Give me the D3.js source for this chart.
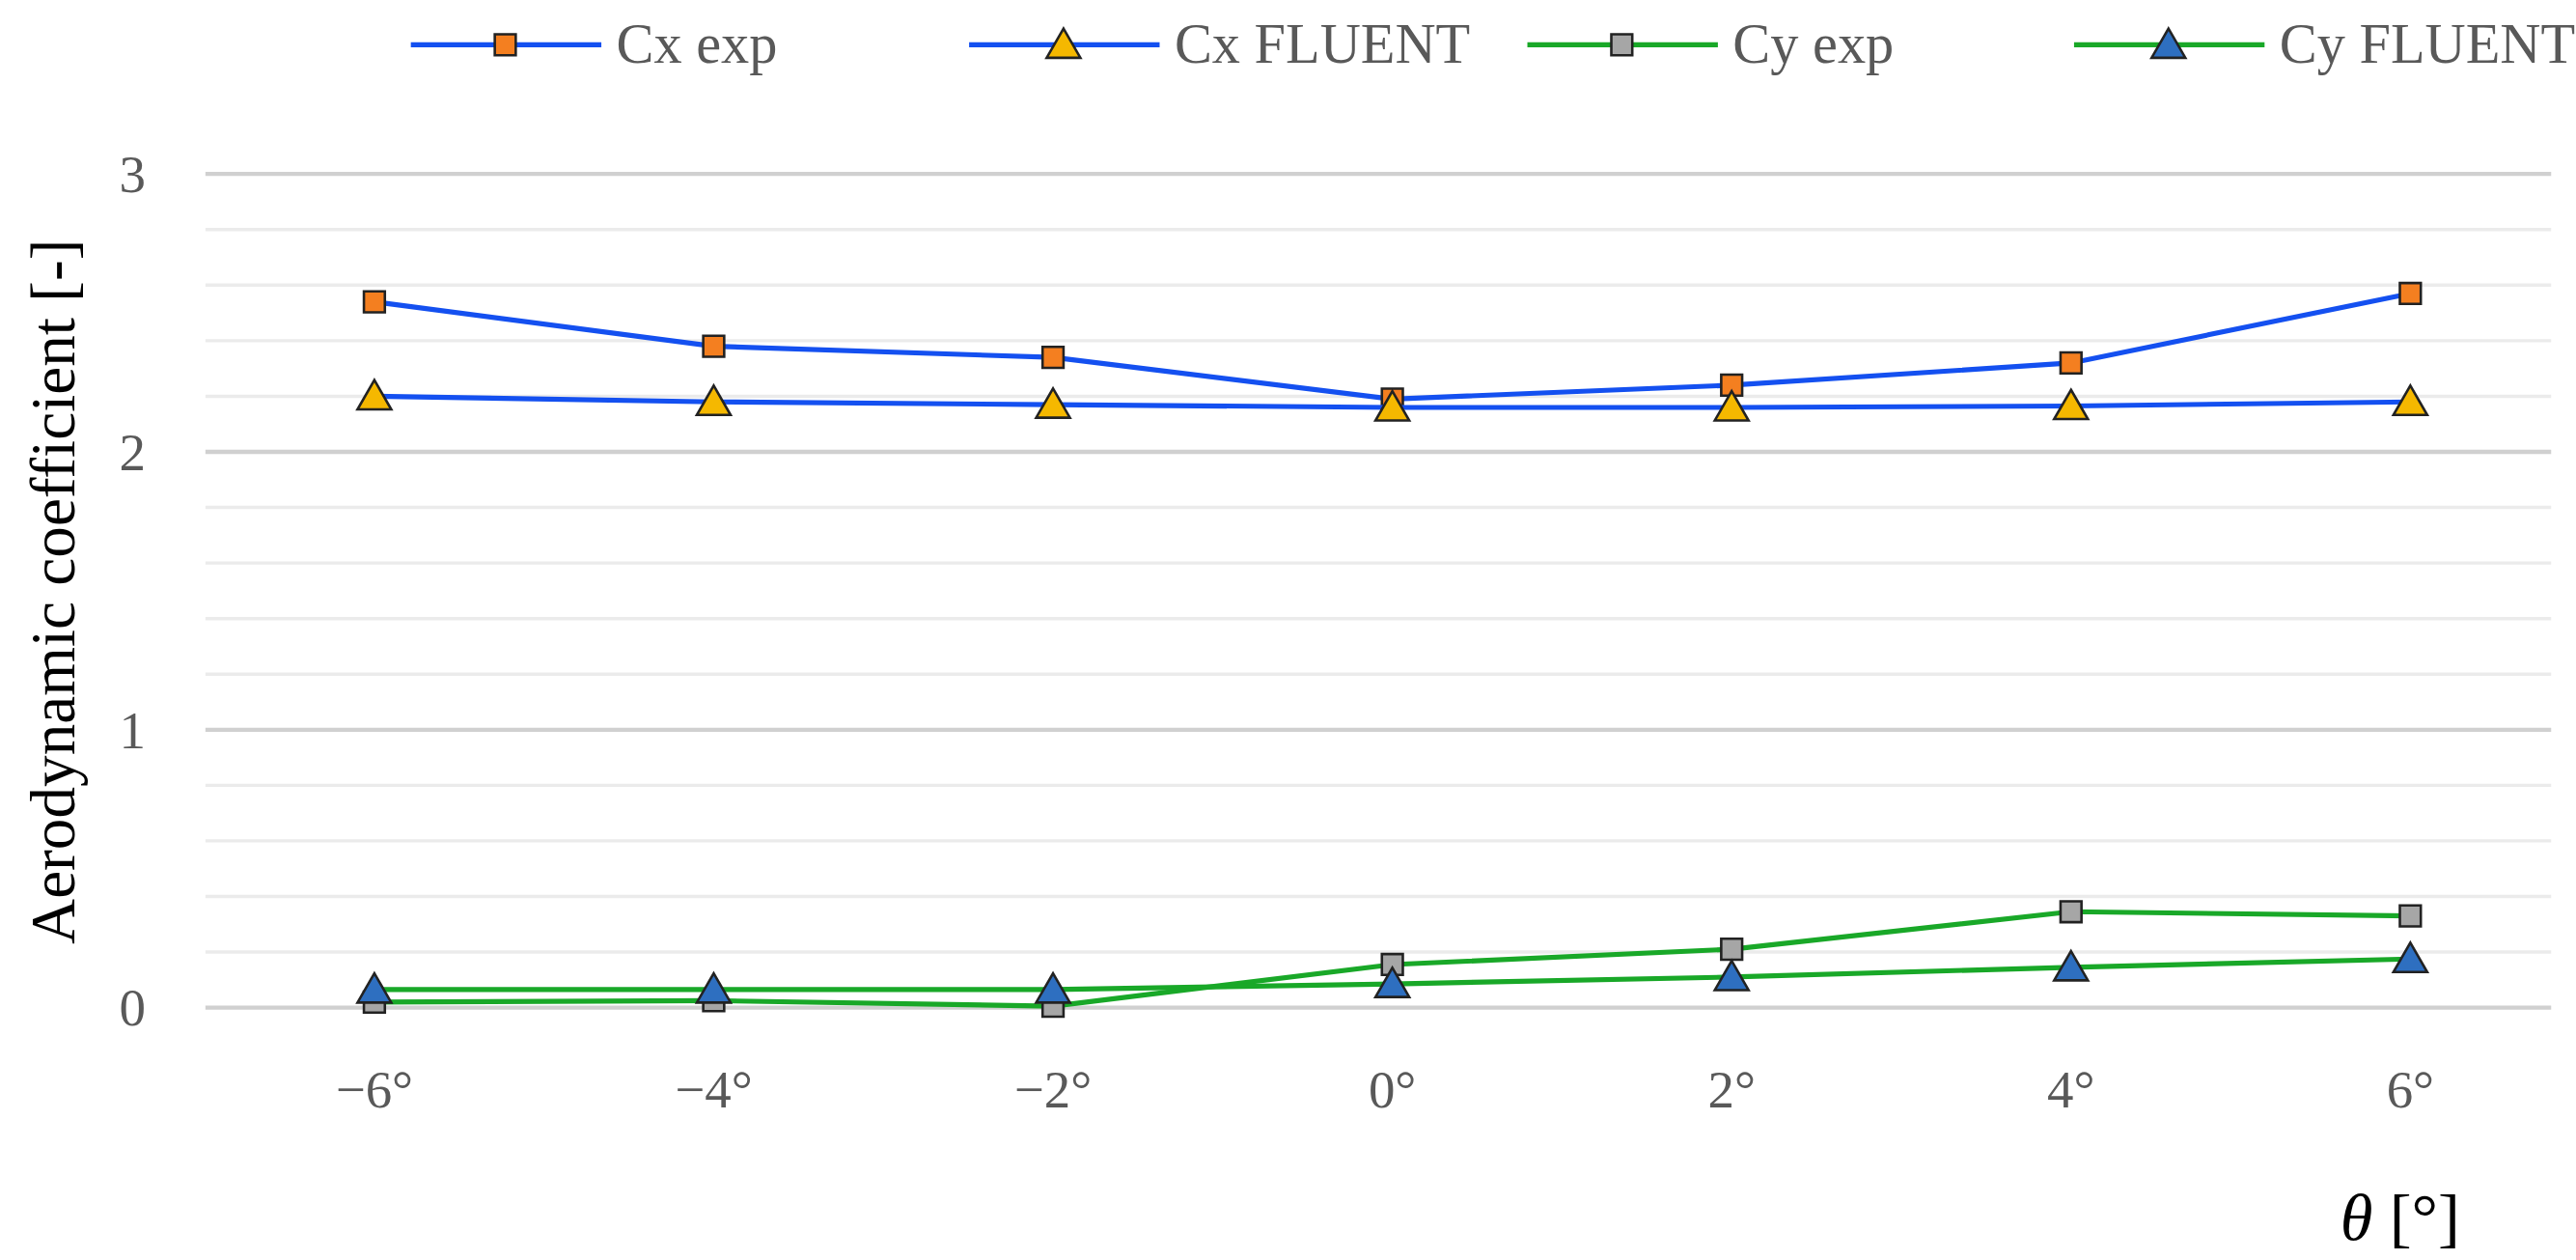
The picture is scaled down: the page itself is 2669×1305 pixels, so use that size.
<!DOCTYPE html><html><head><meta charset="utf-8">
<script src="https://cdn.jsdelivr.net/npm/d3@7"></script>
<style>body{margin:0;background:#fff}svg{font-family:"Liberation Serif","DejaVu Serif",serif}</style></head><body>
<svg id="c" width="2669" height="1305"></svg>
<script>
const angles=[-6,-4,-2,0,2,4,6];
const tickLabels=["−6°","−4°","−2°","0°","2°","4°","6°"];
const cxExp=[2.54,2.38,2.34,2.19,2.24,2.32,2.57];
const cxFluent=[2.20,2.18,2.17,2.16,2.16,2.165,2.18];
const cyExp=[0.02,0.025,0.005,0.155,0.21,0.345,0.33];
const cyFluent=[0.065,0.065,0.065,0.085,0.11,0.145,0.175];
const series=[
 {name:"Cx exp",vals:cxExp,line:"#1450F0",fill:"#F47F20",sym:d3.symbolSquare},
 {name:"Cx FLUENT",vals:cxFluent,line:"#1450F0",fill:"#F5B800",sym:d3.symbolTriangle},
 {name:"Cy exp",vals:cyExp,line:"#19A828",fill:"#A6A6A6",sym:d3.symbolSquare},
 {name:"Cy FLUENT",vals:cyFluent,line:"#19A828",fill:"#2E6FC0",sym:d3.symbolTriangle}];
const svg=d3.select("#c").append("g").attr("transform","scale(1.7164)");
const x=d3.scaleLinear().domain([-6,6]).range([226,1455]);
const y=d3.scaleLinear().domain([0,3]).range([608,105]);
const L=124,R=1540;
for(let v=0;v<=3.001;v+=0.2){const major=Math.abs(v-Math.round(v))<1e-6;
 svg.append("line").attr("x1",L).attr("x2",R).attr("y1",y(v)).attr("y2",y(v))
  .attr("stroke",major?"#D0D0D0":"#EBEBEB").attr("stroke-width",major?2.5:2);}
[0,1,2,3].forEach(v=>svg.append("text").attr("x",88).attr("y",y(v)+11).attr("text-anchor","end")
 .attr("font-size",32).attr("fill","#595959").text(v));
angles.forEach((a,i)=>svg.append("text").attr("x",x(a)).attr("y",668).attr("text-anchor","middle")
 .attr("font-size",32).attr("fill","#595959").text(tickLabels[i]));
svg.append("text").attr("transform","translate(45,357) rotate(-90)").attr("text-anchor","middle")
 .attr("font-size",38).attr("fill","#000").text("Aerodynamic coefficient [-]");
const t=svg.append("text").attr("x",1485).attr("y",748).attr("text-anchor","end").attr("font-size",40).attr("fill","#000");
t.append("tspan").attr("font-style","italic").text("θ");t.append("tspan").text(" [°]");
const line=d3.line().x((d,i)=>x(angles[i])).y(d=>y(d));
series.forEach(s=>{
 svg.append("path").attr("d",line(s.vals)).attr("fill","none").attr("stroke",s.line).attr("stroke-width",3);
 s.vals.forEach((v,i)=>svg.append("path").attr("d",d3.symbol().type(s.sym).size(s.sym===d3.symbolSquare?160:180)())
  .attr("transform",`translate(${x(angles[i])},${y(v)+(s.sym===d3.symbolTriangle?2:0)})`)
  .attr("fill",s.fill).attr("stroke","#222").attr("stroke-width",1.5));});
const lx=[248,585,922,1252];
series.forEach((s,i)=>{const g=svg.append("g").attr("transform",`translate(${lx[i]},27)`);
 g.append("line").attr("x1",0).attr("x2",115).attr("stroke",s.line).attr("stroke-width",3);
 g.append("path").attr("d",d3.symbol().type(s.sym).size(s.sym===d3.symbolSquare?160:180)())
  .attr("transform",`translate(57,${s.sym===d3.symbolTriangle?2:0})`).attr("fill",s.fill).attr("stroke","#222").attr("stroke-width",1.5);
 g.append("text").attr("x",124).attr("y",11).attr("font-size",34).attr("fill","#595959").text(s.name);});
</script></body></html>
